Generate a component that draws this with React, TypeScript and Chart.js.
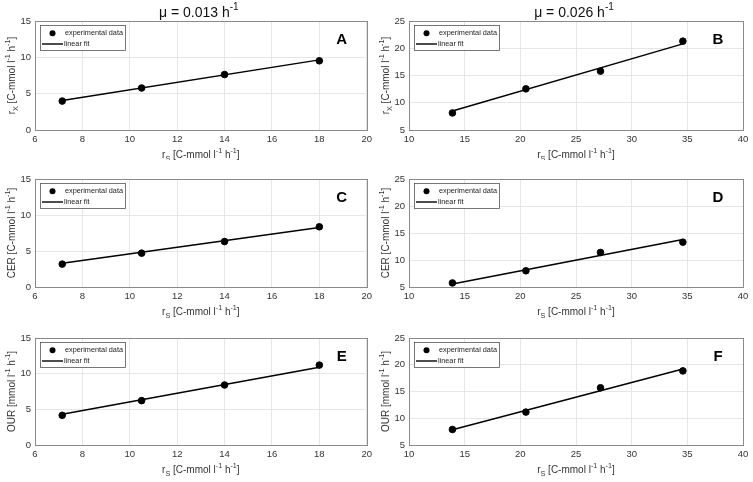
import React, { useEffect, useRef } from 'react';
import { Chart, registerables } from 'chart.js';

Chart.register(...registerables);

const FONT = '"Liberation Sans", Arial, Helvetica, sans-serif';

// ---- data ----
const xLowRate = [7.15, 10.5, 14.0, 18.0];
const xHighRate = [13.9, 20.5, 27.2, 34.6];

const rxLow = [3.98, 5.78, 7.63, 9.52];
const rxLowFit = [4.05, 9.65];
const rxHigh = [8.13, 12.55, 15.8, 21.3];
const rxHighFit = [8.5, 20.8];

const cerLow = [3.18, 4.7, 6.31, 8.36];
const cerLowFit = [3.3, 8.27];
const cerHigh = [5.75, 8.0, 11.4, 13.3];
const cerHighFit = [5.56, 13.8];

const ourLow = [4.16, 6.22, 8.41, 11.2];
const ourLowFit = [4.3, 10.9];
const ourHigh = [7.9, 11.15, 15.7, 18.85];
const ourHighFit = [7.85, 19.2];

const xTicksLow = [6, 8, 10, 12, 14, 16, 18, 20];
const xTicksHigh = [10, 15, 20, 25, 30, 35, 40];
const yTicksLow = [0, 5, 10, 15];
const yTicksHigh = [5, 10, 15, 20, 25];

const panelLetters = ['A', 'B', 'C', 'D', 'E', 'F'];
const legendLabels = ['experimental data', 'linear fit'];

type Seg = [string, number];
const unitC: Seg[] = [[' [C-mmol l', 0], ['-1', 1], [' h', 0], ['-1', 1], [']', 0]];
const unitM: Seg[] = [[' [mmol l', 0], ['-1', 1], [' h', 0], ['-1', 1], [']', 0]];
const xTitle: Seg[] = [['r', 0], ['S', -1], ...unitC];
const yTitleRx: Seg[] = [['r', 0], ['X', -1], ...unitC];
const yTitleCer: Seg[] = [['CER', 0], ...unitC];
const yTitleOur: Seg[] = [['OUR', 0], ...unitM];
const colTitles: Seg[][] = [
  [['\u03bc = 0.013 h', 0], ['-1', 1]],
  [['\u03bc = 0.026 h', 0], ['-1', 1]],
];

// ---- layout ----
const colLeft = [0, 376];
const colWidth = [376, 377];
const areaLeft = [35, 33];
const areaRightPad = [8, 10];
const rowTop = [0, 160, 320];
const rowHeight = [160, 160, 162];
const areaTop = [21, 19, 18];
const areaBottomPad = [30, 33, 37];

interface PanelDef {
  row: number;
  col: number;
  xs: number[];
  ys: number[];
  fit: number[];
  xTicks: number[];
  yTicks: number[];
  yTitle: Seg[];
}

const panels: PanelDef[] = [
  { row: 0, col: 0, xs: xLowRate, ys: rxLow, fit: rxLowFit, xTicks: xTicksLow, yTicks: yTicksLow, yTitle: yTitleRx },
  { row: 0, col: 1, xs: xHighRate, ys: rxHigh, fit: rxHighFit, xTicks: xTicksHigh, yTicks: yTicksHigh, yTitle: yTitleRx },
  { row: 1, col: 0, xs: xLowRate, ys: cerLow, fit: cerLowFit, xTicks: xTicksLow, yTicks: yTicksLow, yTitle: yTitleCer },
  { row: 1, col: 1, xs: xHighRate, ys: cerHigh, fit: cerHighFit, xTicks: xTicksHigh, yTicks: yTicksHigh, yTitle: yTitleCer },
  { row: 2, col: 0, xs: xLowRate, ys: ourLow, fit: ourLowFit, xTicks: xTicksLow, yTicks: yTicksLow, yTitle: yTitleOur },
  { row: 2, col: 1, xs: xHighRate, ys: ourHigh, fit: ourHighFit, xTicks: xTicksHigh, yTicks: yTicksHigh, yTitle: yTitleOur },
];

function drawRich(ctx: CanvasRenderingContext2D, segs: Seg[], x: number, y: number, size: number, color: string, rotate = false) {
  ctx.save();
  const fontFor = (s: number) => `${s === 0 ? size : size * 0.72}px ${FONT}`;
  let total = 0;
  for (const [t, s] of segs) {
    ctx.font = fontFor(s);
    total += ctx.measureText(t).width;
  }
  ctx.translate(x, y);
  if (rotate) ctx.rotate(-Math.PI / 2);
  ctx.fillStyle = color;
  ctx.textBaseline = 'middle';
  ctx.textAlign = 'left';
  let cx = -total / 2;
  for (const [t, s] of segs) {
    ctx.font = fontFor(s);
    const dy = s === 1 ? -size * 0.38 : s === -1 ? size * 0.38 : 0;
    ctx.fillText(t, cx, dy);
    cx += ctx.measureText(t).width;
  }
  ctx.restore();
}

function makePlugin(def: PanelDef, idx: number) {
  return {
    id: 'panelDecor' + idx,
    beforeDatasetsDraw(chart: any) {
      const { ctx, chartArea: a } = chart;
      ctx.save();
      ctx.strokeStyle = '#8a8a8a';
      ctx.lineWidth = 1;
      ctx.strokeRect(Math.round(a.left) + 0.5, Math.round(a.top) + 0.5, Math.round(a.right - a.left), Math.round(a.bottom - a.top));
      ctx.restore();
    },
    afterDraw(chart: any) {
      const { ctx, chartArea: a } = chart;
      const tc = '#333333';
      // axis titles
      drawRich(ctx, xTitle, (a.left + a.right) / 2, a.bottom + 25, 10, tc);
      drawRich(ctx, def.yTitle, a.left - 23, (a.top + a.bottom) / 2, 10, tc, true);
      // column title
      if (def.row === 0) {
        drawRich(ctx, colTitles[def.col], (a.left + a.right) / 2 - 2, 13, 14, '#111111');
      }
      // panel letter
      ctx.save();
      ctx.font = `bold 15px ${FONT}`;
      ctx.fillStyle = '#000';
      ctx.textAlign = 'center';
      ctx.textBaseline = 'middle';
      ctx.fillText(panelLetters[idx], a.right - 25, a.top + 19);
      ctx.restore();
      // legend
      const lx = a.left + 5;
      const ly = a.top + 4;
      ctx.save();
      ctx.fillStyle = '#fff';
      ctx.fillRect(lx, ly, 85, 25);
      ctx.strokeStyle = '#555';
      ctx.lineWidth = 0.8;
      ctx.strokeRect(lx + 0.5, ly + 0.5, 85, 25);
      ctx.fillStyle = '#000';
      ctx.beginPath();
      ctx.arc(lx + 12.5, ly + 8.3, 3, 0, Math.PI * 2);
      ctx.fill();
      ctx.strokeStyle = '#000';
      ctx.lineWidth = 1.4;
      ctx.beginPath();
      ctx.moveTo(lx + 2, ly + 19);
      ctx.lineTo(lx + 23, ly + 19);
      ctx.stroke();
      ctx.font = `7.3px ${FONT}`;
      ctx.fillStyle = '#222';
      ctx.textBaseline = 'middle';
      ctx.fillText(legendLabels[0], lx + 25, ly + 8.3);
      ctx.fillText(legendLabels[1], lx + 24, ly + 19);
      ctx.restore();
    },
  };
}

export default function App() {
  const refs = useRef<(HTMLCanvasElement | null)[]>([]);

  useEffect(() => {
    const charts: Chart[] = [];
    panels.forEach((def, i) => {
      const cv = refs.current[i];
      if (!cv) return;
      const bottomPad = areaBottomPad[def.row];
      const leftW = areaLeft[def.col];
      const tickFont = { family: FONT, size: 9.5 };
      const chart = new Chart(cv, {
        type: 'scatter',
        data: {
          datasets: [
            {
              label: legendLabels[0],
              data: def.xs.map((x, k) => ({ x, y: def.ys[k] })),
              backgroundColor: '#000',
              borderColor: '#000',
              pointRadius: 3.3,
              pointHoverRadius: 3.3,
              showLine: false,
            },
            {
              label: legendLabels[1],
              data: [
                { x: def.xs[0], y: def.fit[0] },
                { x: def.xs[def.xs.length - 1], y: def.fit[1] },
              ],
              borderColor: '#000',
              backgroundColor: '#000',
              borderWidth: 1.5,
              pointRadius: 0,
              showLine: true,
            },
          ],
        },
        options: {
          animation: false,
          responsive: false,
          devicePixelRatio: 1,
          layout: { padding: { left: 0, right: areaRightPad[def.col], top: areaTop[def.row], bottom: 0 } },
          plugins: { legend: { display: false }, tooltip: { enabled: false }, title: { display: false } },
          scales: {
            x: {
              type: 'linear',
              min: def.xTicks[0],
              max: def.xTicks[def.xTicks.length - 1],
              afterFit: (s: any) => { s.height = bottomPad; },
              afterBuildTicks: (s: any) => { s.ticks = def.xTicks.map((v) => ({ value: v })); },
              ticks: { font: tickFont, color: '#333', padding: 4, maxRotation: 0 },
              grid: { color: '#e6e6e6', drawTicks: false, lineWidth: 1 },
              border: { display: false },
            },
            y: {
              type: 'linear',
              min: def.yTicks[0],
              max: def.yTicks[def.yTicks.length - 1],
              afterFit: (s: any) => { s.width = leftW; },
              afterBuildTicks: (s: any) => { s.ticks = def.yTicks.map((v) => ({ value: v })); },
              ticks: { font: tickFont, color: '#333', padding: 4 },
              grid: { color: '#e6e6e6', drawTicks: false, lineWidth: 1 },
              border: { display: false },
            },
          },
        },
        plugins: [makePlugin(def, i)],
      } as any);
      charts.push(chart);
    });
    return () => charts.forEach((c) => c.destroy());
  }, []);

  return (
    <div style={{ position: 'fixed', left: 0, top: 0, width: 753, height: 482, background: '#fff' }}>
      {panels.map((def, i) => (
        <canvas
          key={i}
          ref={(el) => { refs.current[i] = el; }}
          width={colWidth[def.col]}
          height={rowHeight[def.row]}
          style={{
            position: 'absolute',
            left: colLeft[def.col],
            top: rowTop[def.row],
            width: colWidth[def.col],
            height: rowHeight[def.row],
          }}
        />
      ))}
    </div>
  );
}
